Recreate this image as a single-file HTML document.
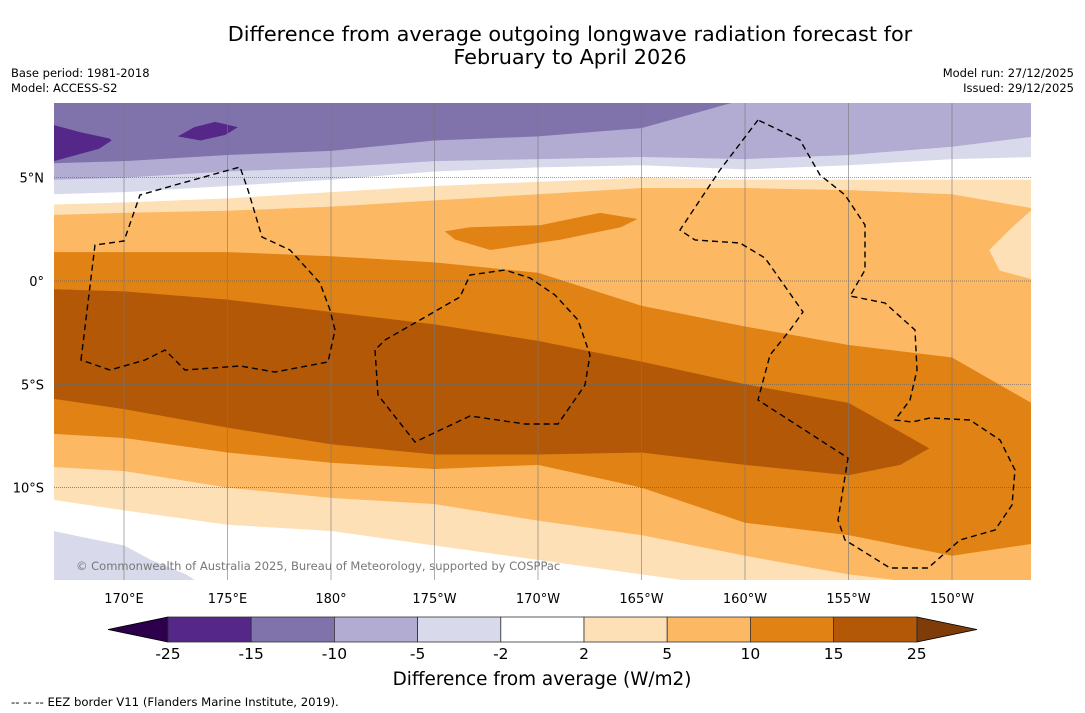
<!DOCTYPE html>
<html><head><meta charset="utf-8"><style>
html,body{margin:0;padding:0;background:#fff;width:1085px;height:713px;overflow:hidden;font-family:"DejaVu Sans","Liberation Sans",sans-serif;}
svg{display:block}
</style></head><body>
<svg id="chart" width="1085" height="713" xmlns="http://www.w3.org/2000/svg">
<text x="570" y="41" text-anchor="middle" font-size="20.8" fill="#000">Difference from average outgoing longwave radiation forecast for</text>
<text x="570" y="64" text-anchor="middle" font-size="20.8" fill="#000">February to April 2026</text>
<text x="11" y="77" font-size="11.5">Base period: 1981-2018</text>
<text x="11" y="92" font-size="11.5">Model: ACCESS-S2</text>
<text x="1074" y="77" font-size="11.5" text-anchor="end">Model run: 27/12/2025</text>
<text x="1074" y="92" font-size="11.5" text-anchor="end">Issued: 29/12/2025</text>
<defs><clipPath id="mapclip"><rect x="54" y="103" width="977" height="477"/></clipPath></defs>
<g id="map" clip-path="url(#mapclip)"></g>
<g id="axes"></g>
<g id="cbar"></g>
<text x="542" y="685" text-anchor="middle" font-size="18.4">Difference from average (W/m2)</text>
<text x="11" y="706" font-size="11.7">--  --  -- EEZ border V11 (Flanders Marine Institute, 2019).</text>
</svg>
<script>
// ---- data ----
const lons = [166.6,170,175,180,185,190,195,200,205,210,214];
const levels = [-25,-15,-10,-5,-2,2,5,10,15,25];
const levelColors = ["#542788","#8073ac","#b2abd2","#d8daeb","#ffffff","#fee0b6","#fdb863","#e08214","#b35806"];
const b1 = [5.7,5.8,6.1,6.3,6.8,7.0,7.4,8.8,8.8,8.8,8.8];
const b2 = [4.9,5.0,5.3,5.5,5.8,5.9,6.0,5.9,6.1,6.5,7.0];
const b3 = [4.2,4.3,4.6,4.9,5.3,5.5,5.6,5.4,5.6,5.9,6.0];
const b4 = [3.7,3.8,4.0,4.3,4.6,4.8,5.0,4.9,4.9,4.9,4.9];
const b5 = [3.2,3.3,3.4,3.6,3.9,4.2,4.5,4.5,4.4,4.2,3.5];
const b6 = [1.4,1.4,1.4,1.2,0.9,0.4,-1.2,-2.2,-3.1,-3.7,-6.0];
const darkLons = [166.6,170,175,180,185,190,195,200,205,207.5,208.9];
const darkTop = [-0.4,-0.5,-0.9,-1.5,-2.1,-2.9,-3.9,-5.0,-5.9,-7.3,-8.1];
const darkBot = [-5.7,-6.2,-7.1,-7.9,-8.4,-8.4,-8.3,-8.9,-9.4,-8.9,-8.1];
const b8 = [-7.4,-7.6,-8.3,-8.8,-9.1,-8.9,-10.0,-11.7,-12.3,-13.3,-12.7];
const b9 = [-9.0,-9.2,-10.0,-10.5,-10.8,-11.6,-12.3,-13.3,-14.2,-14.8,-14.8];
const b10 = [-10.6,-11.1,-11.8,-12.1,-12.8,-13.5,-14.2,-14.9,-15,-15,-15];
const lavLons = [166.6,168,170,171.3,173,174.2];
const lavLat = [-12.1,-12.4,-12.8,-13.5,-14.2,-15];
const patchA_lon = [185.5,186.7,190.1,193.0,194.8,194.0,191.1,187.7,186.0];
const patchA_lat = [2.4,2.6,2.7,3.3,3.0,2.6,2.0,1.5,2.0];
const patchB_lon = [214.5,213.8,212.8,211.8,212.3,213.8,214.5];
const patchB_lat = [3.5,3.4,2.5,1.5,0.5,0.1,0.0];
const patchC_lon = [166.6,167.9,169.3,169.4,168.8,166.6];
const patchC_lat = [7.55,7.2,6.9,6.8,6.4,5.8];
const patchD_lon = [172.6,173.4,174.4,175.5,174.9,173.7];
const patchD_lat = [7.0,7.45,7.7,7.45,7.07,6.8];
const lonTicks = [170,175,180,185,190,195,200,205,210];
const lonLabels = ["170°E","175°E","180°","175°W","170°W","165°W","160°W","155°W","150°W"];
const latTicks = [5,0,-5,-10];
const latLabels = ["5°N","0°","5°S","10°S"];
// ---- scales ----
const X = lon => 124 + (lon-170)*20.7;
const Y = lat => 281 - lat*20.66;
const NS="http://www.w3.org/2000/svg";
const map=document.getElementById('map');
function mk(tag,attrs,parent){const e=document.createElementNS(NS,tag);for(const k in attrs)e.setAttribute(k,attrs[k]);parent.appendChild(e);return e;}
function below(lats,color,name){
  let d="M"+X(lons[0])+","+Y(lats[0]);
  for(let i=1;i<lons.length;i++)d+=" L"+X(lons[i])+","+Y(lats[i]);
  d+=" L1040,600 L40,600 Z";
  const p=mk('path',{d:d,fill:color},map);
  
  
}
function poly(lo,la,color,name){
  const pts=lo.map((v,i)=>X(v)+","+Y(la[i])).join(" ");
  const p=mk('polygon',{points:pts,fill:color},map);
  
  
}
const bg=mk('rect',{x:40,y:90,width:1000,height:520,fill:levelColors[1]},map);


poly(patchC_lon,patchC_lat,levelColors[0],'patch-minus25-west');
poly(patchD_lon,patchD_lat,levelColors[0],'patch-minus25-central');
below(b1,levelColors[2],'band-minus10-minus5');
below(b2,levelColors[3],'band-minus5-minus2');
below(b3,levelColors[4],'band-minus2-2');
below(b4,levelColors[5],'band-2-5');
below(b5,levelColors[6],'band-5-10');
poly(patchB_lon,patchB_lat,levelColors[5],'patch-2-5-east');
poly(patchA_lon,patchA_lat,levelColors[7],'patch-10-15-north');
below(b6,levelColors[7],'band-10-15');
poly(darkLons.concat(darkLons.slice().reverse()),darkTop.concat(darkBot.slice().reverse()),levelColors[8],'band-15-25');
below(b8,levelColors[6],'band-5-10-south');
below(b9,levelColors[5],'band-2-5-south');
below(b10,levelColors[4],'band-minus2-2-south');
poly(lavLons.concat([166.6]),lavLat.concat([-15]),levelColors[3],'patch-minus5-minus2-south');
// grid
lonTicks.forEach(l=>{const g=mk('line',{x1:X(l),x2:X(l),y1:103,y2:580,stroke:'#777','stroke-width':0.6},map);

});
latTicks.forEach(l=>{const g=mk('line',{x1:54,x2:1031,y1:Y(l),y2:Y(l),stroke:'#666','stroke-width':0.7,'stroke-dasharray':'1,1'},map);

});
// EEZ borders
const eez=["M81,360 L95,245 L124,241 L140,195 L175,185 L240,167 L248,190 L262,237 L290,250 L320,283 L330,310 L335,330 L328,362 L275,372 L240,366 L185,370 L165,350 L145,360 L110,370 Z",
"M375,350 L378,395 L415,442 L470,416 L525,424 L558,424 L585,385 L590,355 L578,320 L555,295 L530,278 L505,270 L470,275 L460,297 L420,320 L385,340 Z",
"M758,120 L720,170 L680,230 L695,240 L740,243 L765,258 L803,312 L790,330 L770,355 L758,400 L848,458 L838,520 L845,540 L890,568 L928,568 L960,540 L995,530 L1012,505 L1015,470 L1000,440 L970,420 L930,418 L912,422 L895,420 L910,400 L917,370 L915,330 L885,303 L850,296 L865,270 L865,225 L845,195 L820,175 L800,140 Z"];
eez.forEach(d=>{const p=mk('path',{d:d,fill:'none',stroke:'#000','stroke-width':1.4,'stroke-dasharray':'6,4'},map);

});
const cp=mk('text',{x:76,y:570,'font-size':11.5,fill:'#777'},map);
cp.textContent="© Commonwealth of Australia 2025, Bureau of Meteorology, supported by COSPPac";


// axes labels
const axes=document.getElementById('axes');
lonTicks.forEach((l,i)=>{const t=mk('text',{x:X(l),y:603,'text-anchor':'middle','font-size':13},axes);t.textContent=lonLabels[i];

});
latTicks.forEach((l,i)=>{const t=mk('text',{x:44,y:Y(l)+5,'text-anchor':'end','font-size':13},axes);t.textContent=latLabels[i];

});
// colorbar
const cb=document.getElementById('cbar');
const cx0=168,cw=83.2,cy=617,ch=25;
const l1=mk('polygon',{points:`108,629.5 ${cx0},${cy} ${cx0},${cy+ch}`,fill:'#2d004b',stroke:'#000','stroke-width':0.8},cb);


const r1=mk('polygon',{points:`977,629.5 ${cx0+9*cw},${cy} ${cx0+9*cw},${cy+ch}`,fill:'#7f3b08',stroke:'#000','stroke-width':0.8},cb);


levelColors.forEach((c,i)=>{const r=mk('rect',{x:cx0+i*cw,y:cy,width:cw,height:ch,fill:c,stroke:'#333','stroke-width':0.8},cb);

});
levels.forEach((v,i)=>{const t=mk('text',{x:cx0+i*cw,y:659,'text-anchor':'middle','font-size':15.5},cb);t.textContent=String(v);

});
</script>
</body></html>
